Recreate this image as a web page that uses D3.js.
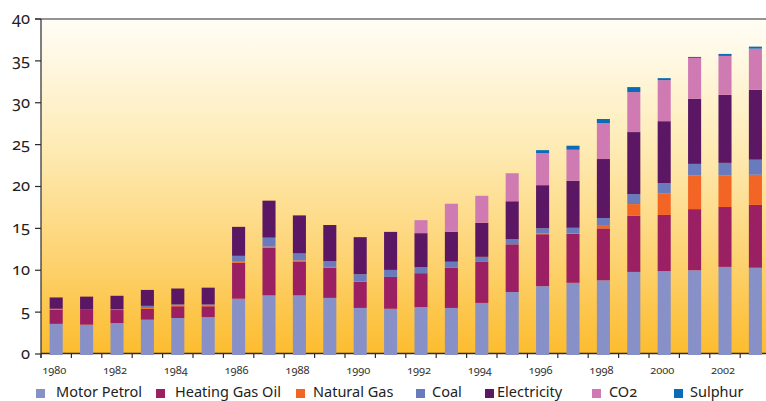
<!DOCTYPE html>
<html>
<head>
<meta charset="utf-8">
<script src="https://cdn.jsdelivr.net/npm/d3@7"></script>
<style>
  html, body { margin: 0; padding: 0; background: #fff; }
  svg { display: block; font-family: "Noto Sans", "Open Sans", sans-serif; font-variant-numeric: oldstyle-nums; }
</style>
</head>
<body>
<div id="chart"></div>
<script>
const years = d3.range(1980, 2004);
const seriesNames = ["Motor Petrol", "Heating Gas Oil", "Natural Gas", "Coal", "Electricity", "CO2", "Sulphur"];
const seriesColors = ["#8891c7", "#9b2063", "#f26524", "#6a7bbd", "#5b1764", "#cf7ab2", "#0a6cb6"];

const motorPetrol = [3.6, 3.5, 3.7, 4.1, 4.3, 4.4, 6.6, 7.0, 7.0, 6.7, 5.5, 5.4, 5.6, 5.5, 6.1, 7.4, 8.1, 8.5, 8.8, 9.8, 9.9, 10.0, 10.4, 10.3];
const heatingGasOil = [1.7, 1.8, 1.55, 1.3, 1.4, 1.3, 4.3, 5.7, 4.05, 3.6, 3.1, 3.8, 4.05, 4.8, 4.9, 5.7, 6.2, 5.85, 6.2, 6.7, 6.7, 7.3, 7.15, 7.5];
const naturalGas = [0.1, 0, 0, 0.1, 0.1, 0.1, 0.12, 0.12, 0.12, 0.1, 0.1, 0, 0, 0, 0, 0, 0.08, 0.08, 0.4, 1.4, 2.6, 4.0, 3.75, 3.6];
const coal = [0, 0, 0.1, 0.25, 0.12, 0.12, 0.7, 1.07, 0.84, 0.7, 0.83, 0.84, 0.72, 0.72, 0.6, 0.6, 0.64, 0.64, 0.84, 1.2, 1.2, 1.4, 1.52, 1.8];
const electricity = [1.35, 1.55, 1.6, 1.9, 1.9, 2.0, 3.46, 4.42, 4.54, 4.3, 4.42, 4.54, 4.06, 3.58, 4.06, 4.54, 5.14, 5.62, 7.04, 7.4, 7.4, 7.76, 8.12, 8.36];
const co2 = [0, 0, 0, 0, 0, 0, 0, 0, 0, 0, 0, 0, 1.55, 3.34, 3.23, 3.34, 3.82, 3.7, 4.3, 4.77, 4.9, 4.89, 4.65, 4.9];
const sulphur = [0, 0, 0, 0, 0, 0, 0, 0, 0, 0, 0, 0, 0, 0, 0, 0, 0.36, 0.48, 0.48, 0.6, 0.24, 0.12, 0.24, 0.24];
const yTicks = [0, 5, 10, 15, 20, 25, 30, 35, 40];
const yearLabels = d3.range(1980, 2004, 2);

const allSeries = [motorPetrol, heatingGasOil, naturalGas, coal, electricity, co2, sulphur];
const rows = years.map((yr, i) => {
  const r = { year: yr };
  seriesNames.forEach((n, k) => { r[n] = allSeries[k][i]; });
  return r;
});

const width = 766, height = 401;
const plotLeft = 41, plotTop = 19, plotBottom = 354;
const step = 30.4;

const x = d3.scaleBand()
  .domain(years)
  .range([plotLeft, plotLeft + step * years.length])
  .paddingInner(0.57)
  .paddingOuter(0.285);
const y = d3.scaleLinear().domain([0, 40]).range([plotBottom, plotTop]);

const svg = d3.select("#chart").append("svg")
  .attr("width", width)
  .attr("height", height);

const grad = svg.append("defs").append("linearGradient")
  .attr("id", "bg").attr("x1", 0).attr("y1", 0).attr("x2", 0).attr("y2", 1);
grad.append("stop").attr("offset", "0%").attr("stop-color", "#fffdf6");
grad.append("stop").attr("offset", "35%").attr("stop-color", "#feedbb");
grad.append("stop").attr("offset", "70%").attr("stop-color", "#fdd475");
grad.append("stop").attr("offset", "100%").attr("stop-color", "#fcbc2e");

svg.append("rect")
  .attr("x", plotLeft).attr("y", plotTop)
  .attr("width", width - plotLeft).attr("height", plotBottom - plotTop)
  .attr("fill", "url(#bg)");

// frame top
svg.append("line")
  .attr("x1", plotLeft - 6).attr("x2", width)
  .attr("y1", plotTop).attr("y2", plotTop)
  .attr("stroke", "#2b2b2b").attr("stroke-width", 1.2);

// y axis
svg.append("line")
  .attr("x1", plotLeft).attr("x2", plotLeft)
  .attr("y1", plotTop).attr("y2", plotBottom + 4)
  .attr("stroke", "#2b2b2b").attr("stroke-width", 1.2);

const yAxis = svg.append("g");
yAxis.selectAll("line").data(yTicks).join("line")
  .attr("x1", plotLeft - 6).attr("x2", plotLeft)
  .attr("y1", d => y(d)).attr("y2", d => y(d))
  .attr("stroke", "#2b2b2b").attr("stroke-width", 1.2);
yAxis.selectAll("text").data(yTicks).join("text")
  .attr("x", plotLeft - 11).attr("y", d => y(d))
  .attr("dy", "0.3em")
  .attr("text-anchor", "end")
  .attr("font-size", 16.5)
  .attr("fill", "#222")
  .text(d => d);

// x axis line and ticks
svg.append("line")
  .attr("x1", plotLeft).attr("x2", width)
  .attr("y1", plotBottom - 0.5).attr("y2", plotBottom - 0.5)
  .attr("stroke", "#3a2a10").attr("stroke-width", 1.4);

const edges = years.map(d => x(d) - x.step() * x.paddingOuter()).concat([x.range()[1]]);
svg.append("g").selectAll("line").data(edges).join("line")
  .attr("x1", d => d).attr("x2", d => d)
  .attr("y1", plotBottom).attr("y2", plotBottom + 4)
  .attr("stroke", "#2b2b2b").attr("stroke-width", 1.2);

svg.append("g").selectAll("text").data(yearLabels).join("text")
  .attr("x", d => x(d) + x.bandwidth() / 2 - 2)
  .attr("y", 374)
  .attr("text-anchor", "middle")
  .attr("font-size", 11)
  .attr("fill", "#333")
  .text(d => d);

// stacked bars
const stack = d3.stack().keys(seriesNames);
const layers = stack(rows);

svg.append("g").selectAll("g").data(layers).join("g")
  .attr("fill", (d, i) => seriesColors[i])
  .selectAll("rect").data(d => d.filter(s => s[1] - s[0] > 0)).join("rect")
  .attr("x", d => x(d.data.year))
  .attr("width", x.bandwidth())
  .attr("y", d => y(d[1]))
  .attr("height", d => y(d[0]) - y(d[1]) + (d[0] === 0 ? 1 : 0));

// legend
const legendX = [36, 156, 296, 416, 485, 592, 674];
const legendTextX = [56, 175, 313, 432, 497, 609, 690];
const legend = svg.append("g");
legend.selectAll("rect").data(seriesNames).join("rect")
  .attr("x", (d, i) => legendX[i]).attr("y", 389)
  .attr("width", 9).attr("height", 9)
  .attr("fill", (d, i) => seriesColors[i]);
legend.selectAll("text").data(seriesNames).join("text")
  .attr("x", (d, i) => legendTextX[i]).attr("y", 396.5)
  .attr("font-size", 14.5)
  .attr("fill", "#222")
  .text(d => d);
</script>
</body>
</html>
